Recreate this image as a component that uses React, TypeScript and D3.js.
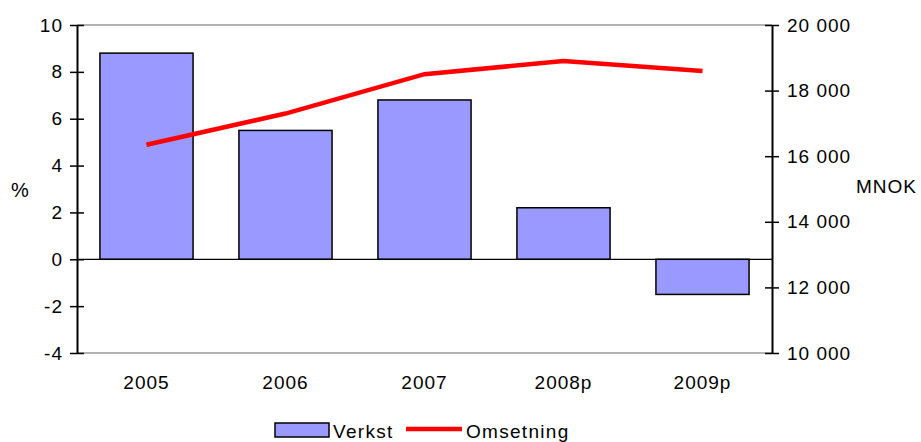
import * as d3 from 'd3'
import { useEffect, useRef } from 'react'

const years = ['2005', '2006', '2007', '2008p', '2009p']
const verkst = [8.8, 5.5, 6.8, 2.2, -1.5]
const omsetning = [16350, 17300, 18500, 18900, 18600]
const leftTicks = [-4, -2, 0, 2, 4, 6, 8, 10]
const rightTicks = [10000, 12000, 14000, 16000, 18000, 20000]

const W = 921
const H = 442
const margin = { top: 25, right: 149, bottom: 89, left: 77 }
const font = 'Arial, "Liberation Sans", sans-serif'

export default function App() {
  const ref = useRef<SVGSVGElement>(null)

  useEffect(() => {
    const svg = d3.select(ref.current)
    svg.selectAll('*').remove()
    const x0 = margin.left
    const x1 = W - margin.right
    const y0 = margin.top
    const y1 = H - margin.bottom

    const x = d3.scaleBand().domain(years).range([x0, x1]).paddingInner(0.33).paddingOuter(0.165)
    const xc = d3.scaleBand().domain(years).range([x0, x1])
    const yL = d3.scaleLinear().domain([-4, 10]).range([y1, y0])
    const yR = d3.scaleLinear().domain([10000, 20000]).range([y1, y0])

    const g = svg.append('g').style('font-family', font).style('font-size', '19px')

    // frame lines top and bottom
    g.append('line').attr('x1', x0).attr('x2', x1).attr('y1', y0).attr('y2', y0)
      .attr('stroke', '#999').attr('stroke-width', 1.3)
    g.append('line').attr('x1', x0).attr('x2', x1).attr('y1', y1).attr('y2', y1)
      .attr('stroke', '#999').attr('stroke-width', 1.3)

    g.selectAll('rect.bar').data(verkst).join('rect')
      .attr('class', 'bar')
      .attr('x', (_, i) => x(years[i])!)
      .attr('width', x.bandwidth())
      .attr('y', d => yL(Math.max(0, d)))
      .attr('height', d => Math.abs(yL(d) - yL(0)))
      .attr('fill', '#9999FF')
      .attr('stroke', '#000')
      .attr('stroke-width', 1.5)

    // zero line
    g.append('line').attr('x1', x0).attr('x2', x1).attr('y1', yL(0)).attr('y2', yL(0))
      .attr('stroke', '#000').attr('stroke-width', 1.3)

    const line = d3.line<number>()
      .x((_, i) => xc(years[i])! + xc.bandwidth() / 2)
      .y(d => yR(d))
    g.append('path').datum(omsetning).attr('d', line)
      .attr('fill', 'none').attr('stroke', '#FF0000').attr('stroke-width', 4.5)

    const axL = d3.axisLeft(yL).tickValues(leftTicks).tickSizeInner(7).tickSizeOuter(0).tickPadding(14)
      .tickFormat(d => String(d))
    const gl = g.append('g').attr('transform', `translate(${x0},0)`).call(axL)
    const axR = d3.axisRight(yR).tickValues(rightTicks).tickSizeInner(7).tickSizeOuter(0).tickPadding(14)
      .tickFormat(d => d3.format(',')(d as number).replace(',', ' '))
    const gr = g.append('g').attr('transform', `translate(${x1},0)`).call(axR)
    for (const ga of [gl, gr]) {
      ga.select('.domain').attr('stroke', '#000').attr('stroke-width', 2)
      ga.selectAll('.tick line').attr('stroke', '#000').attr('stroke-width', 1.5)
        .attr('x1', -7).attr('x2', 7)
      ga.selectAll('.tick text').attr('fill', '#000').style('font-family', font)
        .style('font-size', '19px').style('letter-spacing', '1px')
    }
    gl.selectAll('.tick text').attr('x', -14)
    gr.selectAll('.tick text').attr('x', 15)

    g.selectAll('text.xl').data(years).join('text')
      .attr('class', 'xl')
      .attr('x', d => xc(d)! + xc.bandwidth() / 2)
      .attr('y', y1 + 36)
      .attr('text-anchor', 'middle')
      .style('letter-spacing', '1px')
      .text(d => d)

    g.append('text').attr('x', 11).attr('y', 197).style('font-size', '20px').text('%')
    g.append('text').attr('x', 856).attr('y', 193).style('letter-spacing', '1px').text('MNOK')

    // legend
    const lg = g.append('g')
    lg.append('rect').attr('x', 275).attr('y', 423).attr('width', 54).attr('height', 14)
      .attr('fill', '#9999FF').attr('stroke', '#000').attr('stroke-width', 1.5)
    lg.append('text').attr('x', 333).attr('y', 438).style('letter-spacing', '1.3px').text('Verkst')
    lg.append('line').attr('x1', 406).attr('x2', 462).attr('y1', 429).attr('y2', 429)
      .attr('stroke', '#FF0000').attr('stroke-width', 4.5)
    lg.append('text').attr('x', 466).attr('y', 438).style('letter-spacing', '1.3px').text('Omsetning')
  }, [])

  return (
    <svg ref={ref} width={W} height={H} style={{ position: 'absolute', left: 0, top: 0, background: '#fff' }} />
  )
}
